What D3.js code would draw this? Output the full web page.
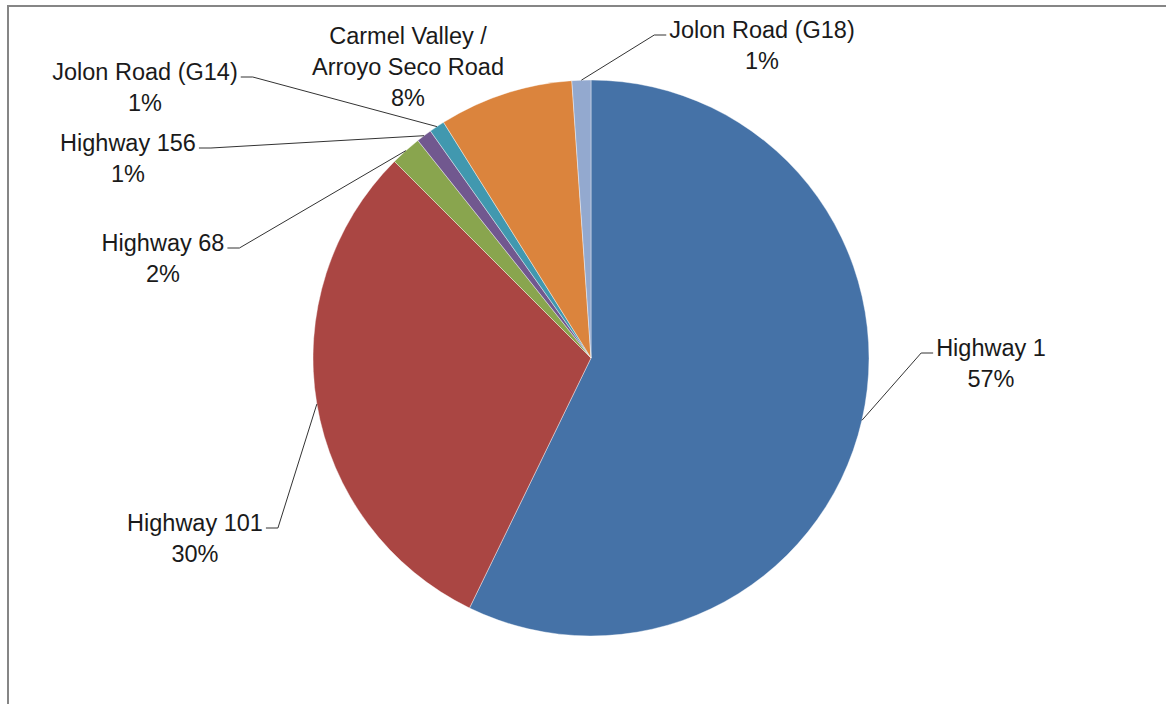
<!DOCTYPE html>
<html>
<head>
<meta charset="utf-8">
<script src="https://cdn.jsdelivr.net/npm/d3@7"></script>
<style>
  body { margin: 0; background: #fff; }
  svg { display: block; }
</style>
</head>
<body>
<div class="visHolder"></div>
<script>
const w = 1166;
const h = 704;

// data
const roads = ['Highway 1', 'Highway 101', 'Highway 68', 'Highway 156', 'Jolon Road (G14)', 'Carmel Valley / Arroyo Seco Road', 'Jolon Road (G18)'];
const shares = [57.2, 30.3, 1.8, 0.9, 0.9, 7.8, 1.1];
const pctLabels = ['57%', '30%', '2%', '1%', '1%', '8%', '1%'];
const labelLines = [['Highway 1'], ['Highway 101'], ['Highway 68'], ['Highway 156'], ['Jolon Road (G14)'], ['Carmel Valley /', 'Arroyo Seco Road'], ['Jolon Road (G18)']];

const colors = ['#4572A7', '#AA4643', '#89A54E', '#71588F', '#4198AF', '#DB843D', '#93A9CF'];

// label placement: centre x, first baseline, side of leader (0 = none)
const labelPos = [
  {x: 991, y: 356, side: -1},
  {x: 195, y: 531, side: 1},
  {x: 163, y: 251, side: 1},
  {x: 128, y: 151, side: 1},
  {x: 145, y: 80, side: 1},
  {x: 408, y: 44, side: 0},
  {x: 762, y: 38, side: -1}
];

const cx = 591, cy = 358, r = 278;
const lineH = 31;

const svg = d3.select('.visHolder').append('svg').attr('width', w).attr('height', h);

// chart border
svg.append('rect').attr('x', 8).attr('y', 6).attr('width', 1300).attr('height', 900)
  .attr('fill', 'none').attr('stroke', '#868686').attr('stroke-width', 2);

const pie = d3.pie().sort(null).value(d => d)(shares);
const arc = d3.arc().innerRadius(0).outerRadius(r);

const g = svg.append('g').attr('transform', 'translate(' + cx + ',' + cy + ')');

g.selectAll('path').data(pie).enter().append('path')
  .attr('d', arc)
  .attr('fill', (d, i) => colors[i])
  .attr('stroke', '#fff')
  .attr('stroke-width', 0.4);

// labels
const labels = svg.append('g')
  .style('font-family', 'Liberation Sans, Arial, sans-serif')
  .style('font-size', '23.5px')
  .attr('fill', '#1a1a1a');

pie.forEach((d, i) => {
  const p = labelPos[i];
  const lines = labelLines[i].concat([pctLabels[i]]);
  const t = labels.append('text').attr('text-anchor', 'middle');
  lines.forEach((s, k) => {
    t.append('tspan').attr('x', p.x).attr('y', p.y + k * lineH).text(s);
  });
  if (p.side === 0) return;
  const first = t.select('tspan').node();
  const tw = first.getComputedTextLength();
  const ly = p.y - 3;
  const x0 = p.side > 0 ? p.x + tw / 2 + 3 : p.x - tw / 2 - 3;
  const x1 = x0 + p.side * 12;
  const a = (d.startAngle + d.endAngle) / 2;
  const ex = cx + r * Math.sin(a);
  const ey = cy - r * Math.cos(a);
  svg.append('polyline')
    .attr('points', [[x0, ly], [x1, ly], [ex, ey]].map(q => q.join(',')).join(' '))
    .attr('fill', 'none')
    .attr('stroke', '#333')
    .attr('stroke-width', 1);
});
</script>
</body>
</html>
